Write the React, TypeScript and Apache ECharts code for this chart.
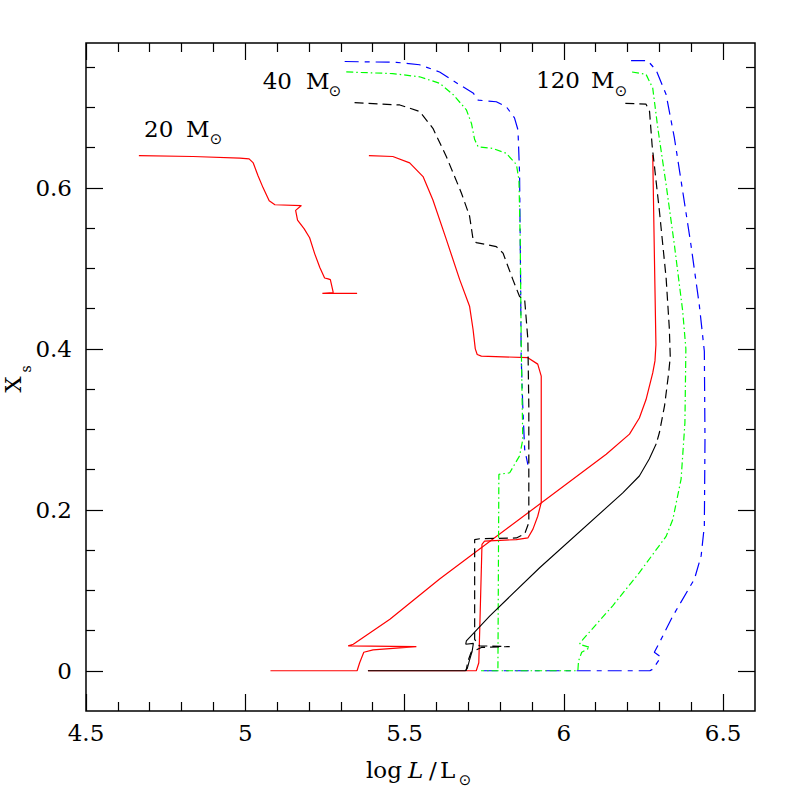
import React, { useEffect, useRef } from "react";
import * as echarts from "echarts";

// ---- axis ranges and ticks ----
const xRange = [4.5, 6.6];
const yRange = [-0.05, 0.78];
const xMajorTicks = [4.5, 5, 5.5, 6, 6.5];
const xMinorTicks = [4.6, 4.7, 4.8, 4.9, 5.1, 5.2, 5.3, 5.4, 5.6, 5.7, 5.8, 5.9, 6.1, 6.2, 6.3, 6.4];
const yMajorTicks = [0, 0.2, 0.4, 0.6];
const yMinorTicks = [0.05, 0.1, 0.15, 0.25, 0.3, 0.35, 0.45, 0.5, 0.55, 0.65, 0.7, 0.75];

// ---- tracks: [log L, X_s] ----
const red20: number[][] = [
  [4.666, 0.640], [4.836, 0.639], [4.983, 0.637], [5.012, 0.636], [5.025, 0.631], [5.040, 0.615],
  [5.056, 0.600], [5.075, 0.584], [5.093, 0.579], [5.176, 0.578], [5.158, 0.572], [5.164, 0.560],
  [5.185, 0.549], [5.202, 0.538], [5.218, 0.518], [5.234, 0.501], [5.249, 0.488], [5.260, 0.487],
  [5.267, 0.486], [5.276, 0.470], [5.242, 0.469], [5.351, 0.469],
];
const red40: number[][] = [
  [5.388, 0.640], [5.463, 0.639], [5.516, 0.631], [5.558, 0.614], [5.589, 0.585], [5.631, 0.536],
  [5.673, 0.486], [5.704, 0.453], [5.715, 0.424], [5.722, 0.400], [5.728, 0.393], [5.741, 0.391],
  [5.887, 0.389], [5.918, 0.381], [5.929, 0.366], [5.929, 0.209], [5.918, 0.192], [5.903, 0.176],
  [5.887, 0.165], [5.851, 0.163], [5.751, 0.161], [5.743, 0.157], [5.736, 0.052], [5.733, 0.010],
  [5.725, 0.000], [5.385, 0.000],
];
const red120: number[][] = [
  [6.279, 0.641], [6.284, 0.520], [6.289, 0.405], [6.286, 0.385], [6.279, 0.370], [6.258, 0.337],
  [6.237, 0.314], [6.206, 0.294], [6.133, 0.269], [5.610, 0.114], [5.454, 0.064], [5.339, 0.033],
  [5.323, 0.031], [5.537, 0.030], [5.401, 0.026], [5.372, 0.023], [5.359, 0.010], [5.351, 0.000],
  [5.079, 0.000],
];
const blackDash40: number[][] = [
  [5.343, 0.706], [5.485, 0.703], [5.547, 0.695], [5.589, 0.674], [5.631, 0.639], [5.678, 0.594],
  [5.704, 0.565], [5.715, 0.536], [5.725, 0.532], [5.788, 0.527], [5.809, 0.519], [5.840, 0.486],
  [5.861, 0.465], [5.877, 0.461], [5.887, 0.412], [5.890, 0.329], [5.890, 0.184], [5.877, 0.170],
  [5.851, 0.165], [5.736, 0.164], [5.720, 0.163], [5.720, 0.039], [5.735, 0.031], [5.830, 0.030],
  [5.741, 0.029], [5.709, 0.023], [5.699, 0.012], [5.693, 0.000],
];
const blackDash120: number[][] = [
  [6.193, 0.705], [6.258, 0.704], [6.269, 0.695], [6.277, 0.653], [6.300, 0.571], [6.321, 0.488],
  [6.331, 0.426], [6.334, 0.390], [6.329, 0.370], [6.316, 0.329], [6.300, 0.296], [6.290, 0.282],
];
const blackSolid120: number[][] = [
  [6.290, 0.282], [6.268, 0.263], [6.237, 0.242], [6.185, 0.221], [5.924, 0.128], [5.767, 0.068],
  [5.694, 0.037], [5.692, 0.033], [5.716, 0.034], [5.712, 0.024], [5.703, 0.012], [5.697, 0.003],
  [5.690, 0.000], [5.385, 0.000],
];
const green40: number[][] = [
  [5.317, 0.744], [5.463, 0.742], [5.547, 0.738], [5.610, 0.730], [5.652, 0.716], [5.694, 0.697],
  [5.710, 0.680], [5.720, 0.660], [5.731, 0.651], [5.777, 0.649], [5.819, 0.643], [5.851, 0.629],
  [5.859, 0.610], [5.863, 0.536], [5.866, 0.412], [5.871, 0.287], [5.861, 0.267], [5.830, 0.246],
  [5.796, 0.244], [5.793, 0.000],
];
const green120: number[][] = [
  [6.214, 0.744], [6.258, 0.741], [6.279, 0.724], [6.295, 0.674], [6.321, 0.604], [6.347, 0.529],
  [6.373, 0.447], [6.383, 0.400], [6.380, 0.308], [6.368, 0.238], [6.342, 0.188], [6.321, 0.167],
  [6.237, 0.122], [6.154, 0.081], [6.060, 0.039], [6.049, 0.033], [6.082, 0.029], [6.056, 0.023],
  [6.046, 0.012], [6.044, 0.000], [5.740, 0.000],
];
const blue40: number[][] = [
  [5.312, 0.757], [5.474, 0.756], [5.547, 0.753], [5.610, 0.744], [5.673, 0.728], [5.715, 0.718],
  [5.731, 0.709], [5.788, 0.707], [5.819, 0.701], [5.845, 0.687], [5.856, 0.672], [5.861, 0.618],
  [5.864, 0.494], [5.866, 0.391], [5.871, 0.329], [5.877, 0.275], [5.887, 0.256],
];
const blue120: number[][] = [
  [6.211, 0.758], [6.263, 0.758], [6.290, 0.746], [6.321, 0.716], [6.347, 0.662], [6.373, 0.596],
  [6.399, 0.529], [6.425, 0.455], [6.441, 0.397], [6.443, 0.287], [6.441, 0.180], [6.431, 0.143],
  [6.410, 0.114], [6.342, 0.068], [6.300, 0.035], [6.284, 0.023], [6.305, 0.017], [6.279, 0.002],
  [6.270, 0.000], [5.730, 0.000],
];

const RED = "#ff0000";
const GREEN = "#00ff00";
const BLUE = "#0000ff";
const BLACK = "#000000";
const SERIF = '"DejaVu Serif", "Liberation Serif", serif';

function axisDef(dim: "x" | "y", position: string, ticks: number[], len: number, labels: boolean) {
  const range = dim === "x" ? xRange : yRange;
  return {
    type: "value",
    position,
    min: range[0],
    max: range[1],
    axisLine: { show: false, onZero: false },
    splitLine: { show: false },
    axisTick: {
      show: true,
      inside: true,
      length: len,
      customValues: ticks,
      lineStyle: { color: BLACK, width: 1.2 },
    },
    axisLabel: labels
      ? {
          show: true,
          customValues: ticks,
          margin: dim === "x" ? 10 : 14,
          color: BLACK,
          fontFamily: SERIF,
          fontSize: 23,
        }
      : { show: false },
  };
}

function line(name: string, data: number[][], color: string, type: any, width = 1.2) {
  return {
    name,
    type: "line",
    data,
    showSymbol: false,
    symbol: "none",
    clip: true,
    lineStyle: { color, width, type },
    emphasis: { disabled: true },
  };
}

function txt(
  text: string,
  x: number,
  y: number,
  size: number,
  align = "left",
  family = SERIF,
  rotation = 0,
  italic = false
) {
  return {
    type: "text",
    x,
    y,
    rotation,
    style: {
      text,
      font: `${italic ? "italic " : ""}${size}px ${family}`,
      fill: BLACK,
      align,
      textAlign: align,
      verticalAlign: "middle",
      textVerticalAlign: "middle",
    },
  };
}

const SUN = "\u2299";
const SUNFONT = '"DejaVu Sans", sans-serif';

export default function App() {
  const ref = useRef<HTMLDivElement>(null);
  useEffect(() => {
    if (!ref.current) return;
    const chart = echarts.init(ref.current, null, { renderer: "svg" });
    chart.setOption({
      animation: false,
      backgroundColor: "#ffffff",
      grid: {
        left: 86,
        right: 42,
        top: 43,
        bottom: 86,
        show: true,
        borderColor: BLACK,
        borderWidth: 1.5,
        backgroundColor: "transparent",
      },
      xAxis: [
        axisDef("x", "bottom", xMajorTicks, 17, true),
        axisDef("x", "bottom", xMinorTicks, 9, false),
        axisDef("x", "top", xMajorTicks, 17, false),
        axisDef("x", "top", xMinorTicks, 9, false),
      ],
      yAxis: [
        axisDef("y", "left", yMajorTicks, 17, true),
        axisDef("y", "left", yMinorTicks, 9, false),
        axisDef("y", "right", yMajorTicks, 17, false),
        axisDef("y", "right", yMinorTicks, 9, false),
      ],
      series: [
        line("20 Msun", red20, RED, "solid"),
        line("40 Msun red", red40, RED, "solid"),
        line("120 Msun red", red120, RED, "solid"),
        line("40 Msun blue", blue40, BLUE, [14, 6, 5, 6]),
        line("120 Msun blue", blue120, BLUE, [14, 6, 5, 6]),
        line("40 Msun green", green40, GREEN, [7, 3, 1.5, 3]),
        line("120 Msun green", green120, GREEN, [7, 3, 1.5, 3]),
        line("40 Msun black", blackDash40, BLACK, [9, 5]),
        line("120 Msun black", blackDash120, BLACK, [9, 5]),
        line("120 Msun black solid", blackSolid120, BLACK, "solid", 1.1),
      ],
      graphic: [
        txt("20", 144, 129, 23),
        txt("M", 186, 129, 23),
        txt(SUN, 216, 139, 15, "center", SUNFONT),
        txt("40", 262.7, 81, 23),
        txt("M", 306, 81, 23),
        txt(SUN, 335, 91, 15, "center", SUNFONT),
        txt("120", 536, 80.3, 23),
        txt("M", 591, 80.3, 23),
        txt(SUN, 621, 91, 15, "center", SUNFONT),
        txt("log", 366, 770, 23),
        txt("L", 408, 770, 23, "left", SERIF, 0, true),
        txt("/", 429, 770, 23),
        txt("L", 440, 770, 23),
        txt(SUN, 465, 780, 15, "center", SUNFONT),
        txt("X", 12.5, 384.5, 23, "center", SERIF, Math.PI / 2),
        txt("s", 26, 369, 14, "center", SERIF, Math.PI / 2),
      ],
    });
    return () => chart.dispose();
  }, []);
  return (
    <div
      ref={ref}
      style={{ position: "fixed", left: 0, top: 0, width: 797, height: 797, background: "#fff" }}
    />
  );
}
